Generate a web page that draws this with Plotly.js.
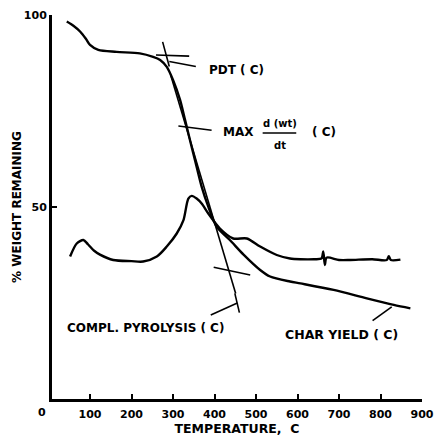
<!DOCTYPE html>
<html>
<head>
<meta charset="utf-8">
<script src="https://cdn.plot.ly/plotly-3.0.1.min.js"></script>
<style>html,body{margin:0;padding:0;background:#fff;}#chart{width:434px;height:441px;}</style>
</head>
<body>
<div id="chart"></div>
<script>
// TGA weight curve (% weight remaining vs temperature, C)
const tgaTemp = [44, 60, 76, 90, 100, 120, 164, 220, 252, 269, 285, 300, 317, 329, 341, 353, 369, 385, 405, 437, 470, 510, 534, 582, 607, 687, 767, 832, 872];
const tgaWt   = [98.3, 97.2, 95.7, 93.8, 92.2, 90.9, 90.4, 90.0, 89.1, 88.3, 86.5, 83.1, 77.9, 72.7, 67.4, 62.2, 55.3, 50.1, 44.9, 41.4, 37.6, 33.6, 31.9, 30.6, 30.1, 28.4, 26.2, 24.5, 23.6];

// Derivative (DTG) curve, drawn on the same axes
const dtgTemp = [52, 68, 84, 95, 110, 124, 156, 200, 228, 261, 285, 309, 325, 337, 345, 357, 369, 385, 413, 445, 478, 510, 550, 582, 607, 640, 658, 662, 666, 670, 700, 727, 780, 815, 820, 825, 848];
const dtgWt   = [37.1, 40.5, 41.4, 40.3, 38.6, 37.6, 36.2, 35.9, 35.8, 37.1, 39.7, 43.1, 46.5, 52.2, 52.9, 52.2, 50.9, 48.3, 44.4, 41.8, 41.8, 39.7, 37.5, 36.6, 36.4, 36.4, 36.6, 38.4, 34.9, 36.8, 36.2, 36.2, 36.4, 36.2, 37.2, 36.2, 36.3];

// Construction (tangent / leader) lines
const pdtBaseT = [259, 339], pdtBaseW = [89.6, 89.3];
const pdtSlashT = [275, 291], pdtSlashW = [93.0, 86.6];
const pdtLeadT = [291, 355], pdtLeadW = [87.9, 86.6];
const maxLeadT = [313, 393], maxLeadW = [71.1, 70.0];
const steepT = [294, 451], steepW = [84.5, 27.5];
const steepTickT = [449, 460], steepTickW = [27.5, 22.5];
const complLeadT = [391, 455], complLeadW = [21.9, 25.0];
const charTanT = [398, 486], charTanW = [34.3, 32.3];
const charLeadT = [781, 827], charLeadW = [20.4, 24.0];

// Axis ticks
const xTicks = [100, 200, 300, 400, 500, 600, 700, 800, 900];
const xTickText = ['100', '200', '300', '400', '500', '600', '700', '800', '900'];
const xOriginLabel = '0';
const yTicks = [50, 100];
const yTickText = ['50', '100'];

const F = 'DejaVu Sans, Liberation Sans, Arial, sans-serif';
const curve = (x, y, w) => ({x, y, mode: 'lines', type: 'scatter', line: {color: '#000', width: w, shape: 'spline', smoothing: 0.8}, hoverinfo: 'skip', showlegend: false});
const seg = (x, y) => ({x, y, mode: 'lines', type: 'scatter', line: {color: '#000', width: 1.6}, hoverinfo: 'skip', showlegend: false});

const data = [
  curve(tgaTemp, tgaWt, 2.4),
  curve(dtgTemp, dtgWt, 2.4),
  seg(pdtBaseT, pdtBaseW), seg(pdtSlashT, pdtSlashW), seg(pdtLeadT, pdtLeadW),
  seg(maxLeadT, maxLeadW), seg(steepT, steepW), seg(steepTickT, steepTickW),
  seg(complLeadT, complLeadW), seg(charTanT, charTanW), seg(charLeadT, charLeadW)
];

const ann = (text, x, y, size, xanchor) => ({text, x, y, xref: 'x', yref: 'y', showarrow: false, xanchor: xanchor || 'left', yanchor: 'middle', font: {family: F, size, color: '#000', weight: 'bold'}});

const layout = {
  width: 434, height: 441,
  margin: {l: 52, r: 12, t: 15, b: 42},
  paper_bgcolor: '#fff', plot_bgcolor: '#fff',
  xaxis: {
    range: [8.4, 900], tickvals: xTicks, ticktext: xTickText,
    ticks: 'inside', ticklen: 5, tickwidth: 2, tickcolor: '#000',
    showline: true, linewidth: 3, linecolor: '#000', mirror: false,
    showgrid: false, zeroline: false, ticklabeloverflow: 'allow',
    ticklabelstandoff: 3,
    tickfont: {family: F, size: 11, color: '#000', weight: 'bold'},
    title: {text: 'TEMPERATURE,  C', font: {family: F, size: 12.5, color: '#000', weight: 'bold'}, standoff: 5}
  },
  yaxis: {
    range: [0, 100], tickvals: yTicks, ticktext: yTickText,
    ticks: 'inside', ticklen: 5, tickwidth: 2, tickcolor: '#000',
    showline: true, linewidth: 3, linecolor: '#000',
    showgrid: false, zeroline: false,
    tickfont: {family: F, size: 11, color: '#000', weight: 'bold'},
    title: {text: '% WEIGHT REMAINING', font: {family: F, size: 12, color: '#000', weight: 'bold'}, standoff: 0}
  },
  annotations: [
    {text: xOriginLabel, x: -0.027, y: -0.036, xref: 'paper', yref: 'paper', showarrow: false, xanchor: 'center', yanchor: 'middle', font: {family: F, size: 11, color: '#000', weight: 'bold'}},
    ann('PDT ( C)', 382, 85.7, 12),
    ann('MAX', 416, 69.5, 12),
    ann('d (wt)', 557, 71.8, 10, 'center'),
    ann('dt', 557, 66.0, 10, 'center'),
    ann('( C)', 631, 69.5, 12),
    ann('COMPL. PYROLYSIS ( C)', 234, 18.5, 12, 'center'),
    ann('CHAR YIELD ( C)', 707, 16.7, 12.5, 'center')
  ],
  shapes: [
    {type: 'line', xref: 'x', yref: 'y', x0: 516, x1: 597, y0: 69.3, y1: 69.3, line: {color: '#000', width: 1.5}}
  ]
};

Plotly.newPlot('chart', data, layout, {staticPlot: true, displayModeBar: false});
</script>
</body>
</html>
